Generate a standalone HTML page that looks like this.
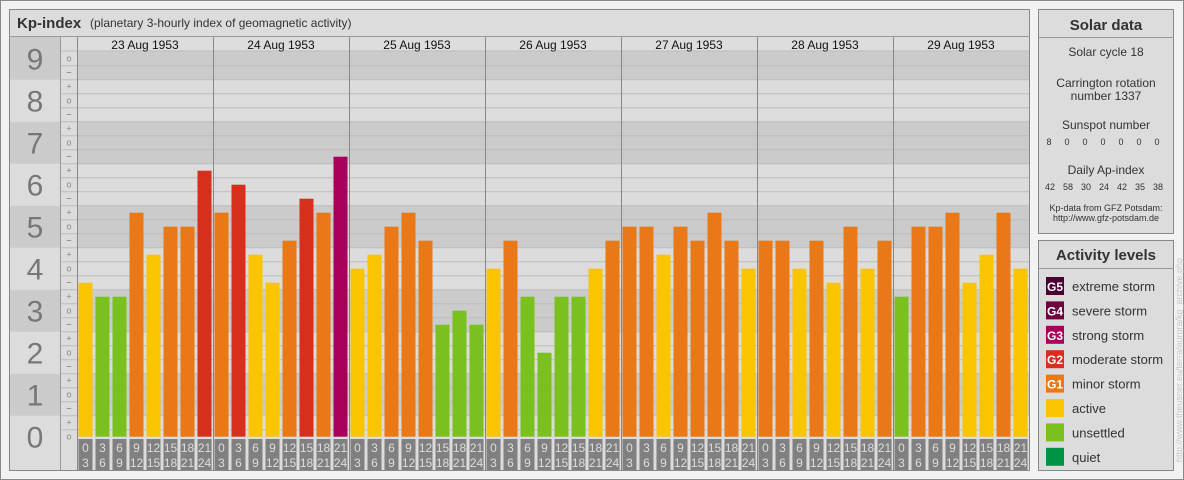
<!DOCTYPE html>
<html><head><meta charset="utf-8"><style>
body{margin:0;background:#f2f2f2;}
svg{display:block;font-family:"Liberation Sans",sans-serif;}
</style></head><body>
<svg id="s" width="1184" height="480" viewBox="0 0 1184 480" xmlns="http://www.w3.org/2000/svg">
<rect x="0.5" y="0.5" width="1183" height="479" fill="#f2f2f2" stroke="#888"/>
<g id="main"></g>
<g id="side"></g>
</svg>
<script>
const days = ["23 Aug 1953","24 Aug 1953","25 Aug 1953","26 Aug 1953","27 Aug 1953","28 Aug 1953","29 Aug 1953"];
const kpValues = ["4-","3+","3+","5+","4+","5o","5o","6+",
 "5+","6o","4+","4-","5-","6-","5+","7-",
 "4o","4+","5o","5+","5-","3-","3o","3-",
 "4o","5-","3+","2o","3+","3+","4o","5-",
 "5o","5o","4+","5o","5-","5+","5-","4o",
 "5-","5-","4o","5-","4-","5o","4o","5-",
 "3+","5o","5o","5+","4-","4+","5+","4o"];
const timeStart = ["0","3","6","9","12","15","18","21"];
const timeEnd = ["3","6","9","12","15","18","21","24"];
const sunspots = ["8","0","0","0","0","0","0"];
const apIndex = ["42","58","30","24","42","35","38"];
const levels = [["G5","extreme storm","#4a0030"],["G4","severe storm","#6e0040"],["G3","strong storm","#a8005a"],["G2","moderate storm","#d82e1c"],["G1","minor storm","#e87916"],["","active","#f9c400"],["","unsettled","#7ac01f"],["","quiet","#009245"]];

const NS="http://www.w3.org/2000/svg";
function mk(parent,tag,attrs,text){const e=document.createElementNS(NS,tag);for(const k in attrs)e.setAttribute(k,attrs[k]);if(text!==undefined)e.textContent=text;parent.appendChild(e);return e;}
function thirds(s){const n=parseInt(s);const m=s.slice(-1);return n*3+(m==="+"?1:m==="-"?-1:0);}
const Y0=436.7, CELL=14;
function yT(t){return Y0-t*CELL;}
function color(t){const k=Math.round(t/3);if(k>=9)return"#4a0030";if(k==8)return"#6e0040";if(k==7)return"#a8005a";if(k==6)return"#d82e1c";if(k==5)return"#e87916";if(k==4)return"#f9c400";if(k>=2)return"#7ac01f";return"#009245";}

const g=document.getElementById('main');
const X0=77, DAYW=136, BW=17, TOP=51, BOT=437;
let e;
e=mk(g,'rect',{x:9.5,y:9.5,width:1020,height:461,fill:"#dcdcdc",stroke:"#888"});

e=mk(g,'line',{x1:10,x2:1030,y1:36.5,y2:36.5,stroke:"#999"});

e=mk(g,'text',{x:17,y:28,"font-size":15,"font-weight":"bold",fill:"#333"},"Kp-index");

e=mk(g,'text',{x:90,y:27,"font-size":12,fill:"#333"},"(planetary 3-hourly index of geomagnetic activity)");

// bands
for(let n=0;n<=9;n++){
  let y1=Math.max(yT(3*n+1.5),TOP), y2=Math.min(yT(3*n-1.5),BOT);
  const dark=n%2==1;
  e=mk(g,'rect',{x:X0,y:y1,width:1030-X0,height:y2-y1,fill:dark?"#cbcbcb":"#dcdcdc"});
  
  e=mk(g,'rect',{x:10,y:(n==9?37:y1),width:50,height:(n==0?470-y1:y2-(n==9?37:y1)),fill:dark?"#cbcbcb":"#dcdcdc"});
  
  e=mk(g,'text',{x:35,y:yT(3*n)+11,"font-size":30,fill:"#777","text-anchor":"middle"},String(n));
  
}
// grid lines and small labels
for(let t=0;t<=27;t++){
  const yl=yT(t+0.5);
  if(yl>TOP+1){e=mk(g,'line',{x1:60,x2:1030,y1:yl,y2:yl,stroke:"#bcbcbc"});
  }
  const r=((t%3)+3)%3; const sym=r==0?"o":r==1?"+":"−";
  e=mk(g,'text',{x:69,y:yT(t)+3,"font-size":9,fill:"#888","text-anchor":"middle"},sym);
  
}
for(let t=3;t<=27;t+=3){ e=mk(g,'text',{x:69,y:yT(t-1)+3,"font-size":9,fill:"#888","text-anchor":"middle"},"−");
  }
// header
e=mk(g,'rect',{x:X0,y:37,width:1030-X0,height:14,fill:"#dcdcdc"});

e=mk(g,'line',{x1:60,x2:1030,y1:51,y2:51,stroke:"#bcbcbc"});

e=mk(g,'rect',{x:X0,y:BOT,width:1030-X0,height:33,fill:"#dcdcdc"});

e=mk(g,'line',{x1:60.5,x2:60.5,y1:37,y2:470,stroke:"#999"});

days.forEach((d,i)=>{
  e=mk(g,'text',{x:X0+DAYW*i+DAYW/2,y:49,"font-size":12,fill:"#111","text-anchor":"middle"},d);
  
});
// bars
kpValues.forEach((v,i)=>{
  const t=thirds(v); const x=X0+i*BW+1.5;
  e=mk(g,'rect',{x:x,y:yT(t),width:14,height:Y0-yT(t),fill:color(t)});
  
  const j=i%8;
  e=mk(g,'rect',{x:x,y:439,width:14,height:31,fill:"#808080"});
  
  e=mk(g,'text',{x:x+7,y:452,"font-size":12,fill:"#ddd","text-anchor":"middle"},timeStart[j]);
  
  e=mk(g,'text',{x:x+7,y:467,"font-size":12,fill:"#ddd","text-anchor":"middle"},timeEnd[j]);
  
});
for(let i=0;i<=7;i++){
  e=mk(g,'line',{x1:X0+DAYW*i+0.5,x2:X0+DAYW*i+0.5,y1:37,y2:470,stroke:"#888"});
  
}
// side panels
const s=document.getElementById('side');
e=mk(s,'rect',{x:1038.5,y:9.5,width:135,height:224,fill:"#dcdcdc",stroke:"#888"});

e=mk(s,'line',{x1:1039,x2:1174,y1:37.5,y2:37.5,stroke:"#999"});

const C=1106;
const txt=[["Solar data",30,15,"bold","solar-title"],["Solar cycle 18",56,12,"normal","solar-cycle"],["Carrington rotation",87,12,"normal","carrington-line1"],["number 1337",100,12,"normal","carrington-line2"],["Sunspot number",129,12,"normal","sunspot-title"],["Daily Ap-index",174,12,"normal","ap-title"],["Kp-data from GFZ Potsdam:",211,9,"normal","source-line1"],["http://www.gfz-potsdam.de",221,9,"normal","source-line2"]];
txt.forEach(a=>{e=mk(s,'text',{x:C,y:a[1],"font-size":a[2],"font-weight":a[3],fill:"#333","text-anchor":"middle"},a[0]);
  });
sunspots.forEach((v,i)=>{e=mk(s,'text',{x:1049+i*18,y:145,"font-size":9,fill:"#333","text-anchor":"middle"},v);
  });
apIndex.forEach((v,i)=>{e=mk(s,'text',{x:1050+i*18,y:190,"font-size":9,fill:"#333","text-anchor":"middle"},v);
  });
e=mk(s,'rect',{x:1038.5,y:240.5,width:135,height:230,fill:"#dcdcdc",stroke:"#888"});

e=mk(s,'line',{x1:1039,x2:1174,y1:268.5,y2:268.5,stroke:"#999"});

e=mk(s,'text',{x:C,y:260,"font-size":15,"font-weight":"bold",fill:"#333","text-anchor":"middle"},"Activity levels");

levels.forEach((l,i)=>{
  const cy=286+i*24.4;
  e=mk(s,'rect',{x:1046,y:cy-9,width:18,height:18,fill:l[2]});
  
  if(l[0]){e=mk(s,'text',{x:1055,y:cy+5,"font-size":12,"font-weight":"bold",fill:"#fff","text-anchor":"middle"},l[0]);
  }
  e=mk(s,'text',{x:1072,y:cy+5,"font-size":13,fill:"#333"},l[1]);
  
});
e=mk(s,'text',{x:0,y:0,"font-size":9,fill:"#c8c8c8","text-anchor":"middle",transform:"translate(1182,360) rotate(-90)"},"http://www.theusner.eu/terra/aurora/kp_archive.php");

</script>
</body></html>
